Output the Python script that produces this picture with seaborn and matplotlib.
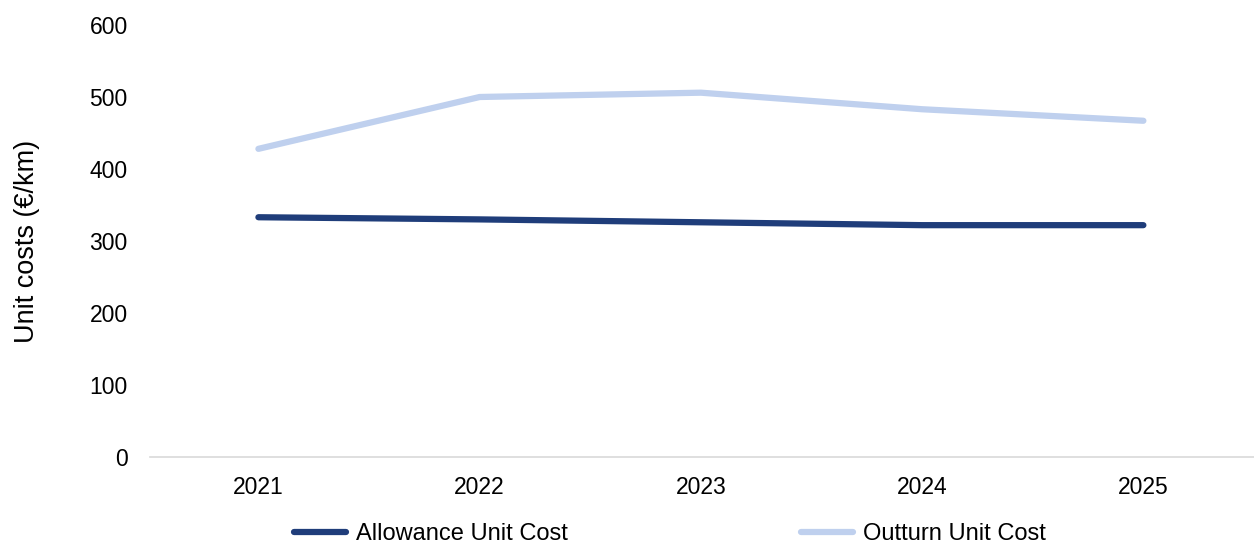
import matplotlib
matplotlib.use("Agg")
import matplotlib.pyplot as plt
import seaborn as sns
import pandas as pd

years = ["2021", "2022", "2023", "2024", "2025"]
allowance = [333, 330, 326, 322, 322]
outturn = [428, 500, 506, 483, 467]
yticks = [0, 100, 200, 300, 400, 500, 600]

sns.set_theme(style="white")
plt.rcParams["font.family"] = ["Liberation Sans", "DejaVu Sans"]

df = pd.DataFrame({
    "Year": years * 2,
    "Value": allowance + outturn,
    "Series": ["Allowance Unit Cost"] * 5 + ["Outturn Unit Cost"] * 5,
})

fig = plt.figure(figsize=(12.54, 5.47), dpi=100)
ax = fig.add_axes([150 / 1254, 1 - 457 / 547, (1254 - 150) / 1254, (457 - 25) / 547])
sns.lineplot(data=df, x="Year", y="Value", hue="Series",
             palette={"Allowance Unit Cost": "#1F3D7A", "Outturn Unit Cost": "#BFD0EE"},
             linewidth=4.5, ax=ax, sort=False, solid_capstyle="round")
ax.set_ylim(0, 600)
ax.set_xlim(-0.49, 4.5)
ax.set_yticks(yticks)
ax.set_yticklabels([str(v) for v in yticks], fontsize=16.5, color="#000000")
ax.tick_params(axis="x", labelsize=16.5, colors="#000000", length=0, pad=14)
ax.tick_params(axis="y", length=0, pad=16)
for s in ["top", "right", "left"]:
    ax.spines[s].set_visible(False)
ax.spines["bottom"].set_color("#D9D9D9")
ax.spines["bottom"].set_linewidth(1.2)
ax.set_xlabel("")
ax.set_ylabel("Unit costs (€/km)", fontsize=19.5, color="#000000")
ax.yaxis.set_label_coords(-0.1, 0.5)
leg = ax.legend(loc="upper center", bbox_to_anchor=(0.471, -0.121), ncol=2, frameon=False,
                fontsize=17, handlelength=2.2, columnspacing=9.9, handletextpad=0.4,
                borderpad=0.1, labelcolor="#000000")
for line in leg.get_lines():
    line.set_linewidth(4.5)
    line.set_solid_capstyle("round")
fig.savefig("out.png", dpi=100)
